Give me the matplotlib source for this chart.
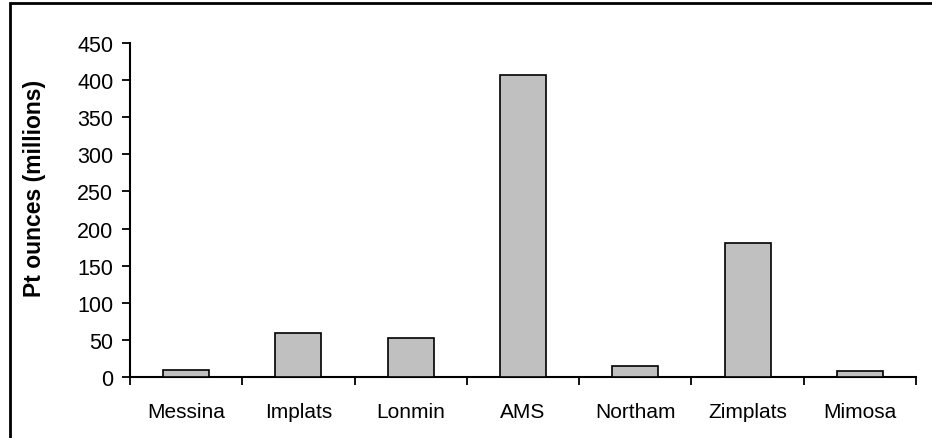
import numpy as np
import matplotlib
matplotlib.use("Agg")
import matplotlib.pyplot as plt
from matplotlib.patches import Rectangle

# ---------------------------------------------------------------------------
# Data
# ---------------------------------------------------------------------------
mines = ["Messina", "Implats", "Lonmin", "AMS", "Northam", "Zimplats", "Mimosa"]
pt_ounces = [10, 59, 53, 407, 15, 180, 8]   # millions of ounces
y_ticks = [0, 50, 100, 150, 200, 250, 300, 350, 400, 450]

plt.rcParams["font.family"] = ["Liberation Sans", "DejaVu Sans"]

W, H = 932, 439
fig = plt.figure(figsize=(W / 100, H / 100), dpi=100)

# outer chart frame (Excel style), only left/top edges fall inside the image
fig.patches.append(Rectangle((10 / W, -1.0), 2.0, 2.0 - 4 / H, transform=fig.transFigure,
                             fill=False, edgecolor="black", lw=2.0, zorder=0))

ax = fig.add_axes([130 / W, 1 - 378 / H, (916 - 130) / W, (378 - 44) / H])

x = np.arange(len(mines))
ax.bar(x, pt_ounces, width=0.41, color="#c0c0c0", edgecolor="black", lw=1.2, zorder=3)

ax.set_xlim(-0.5, len(mines) - 0.5)
ax.set_ylim(0, 450)
ax.set_yticks(y_ticks)
ax.tick_params(axis="y", direction="out", length=6, width=1.3, labelsize=15.5, pad=6)

ax.set_xticks(x)
ax.set_xticklabels(mines)
ax.set_xticks(np.arange(len(mines) + 1) - 0.5, minor=True)
ax.tick_params(axis="x", which="major", length=0, labelsize=15, pad=18)
ax.tick_params(axis="x", which="minor", direction="out", length=6, width=1.3)

for side in ("top", "right"):
    ax.spines[side].set_visible(False)
for side in ("left", "bottom"):
    ax.spines[side].set_linewidth(1.5)

ax.set_ylabel("Pt ounces (millions)", fontsize=16.5, fontweight="bold")
ax.yaxis.set_label_coords(-84 / (916 - 130), (378 - 188) / (378 - 44))

fig.savefig("out.png", dpi=100, facecolor="white")
